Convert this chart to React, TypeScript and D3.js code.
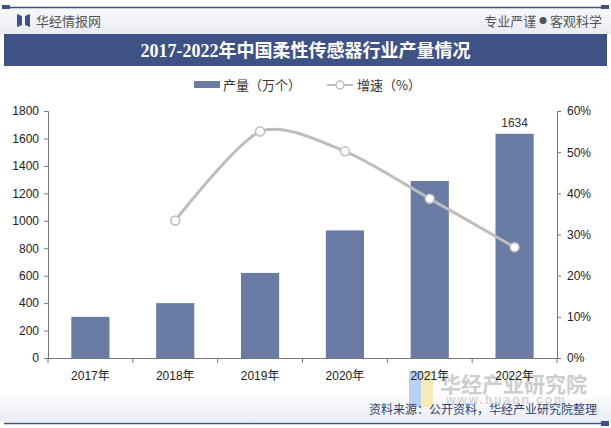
import * as d3 from "d3";
import { useEffect, useRef } from "react";

const years = ["2017年", "2018年", "2019年", "2020年", "2021年", "2022年"];
const output = [300, 400, 620, 930, 1290, 1634];
const growth = [null, 33.4, 55.0, 50.2, 38.7, 26.9];
const leftTicks = [0, 200, 400, 600, 800, 1000, 1200, 1400, 1600, 1800];
const rightTicks = [0, 10, 20, 30, 40, 50, 60];

const W = 611;
const H = 428;
const NAVY = "#3f5286";
const BAR = "#6a7ca3";
const LINE = "#bdbdbd";
const CJK = "'Noto Sans CJK SC', 'Liberation Sans', sans-serif";
const NUM = "'Liberation Sans', Arial, sans-serif";

export default function App() {
	const ref = useRef<SVGSVGElement | null>(null);

	useEffect(() => {
		if (!ref.current) return;
		const svg = d3.select(ref.current);
		svg.selectAll("*").remove();

		const m = { left: 48, right: 557, top: 111, bottom: 358 };

		const defs = svg.append("defs");
		const hg = defs.append("linearGradient").attr("id", "hdr").attr("x1", 0).attr("x2", 0).attr("y1", 0).attr("y2", 1);
		hg.append("stop").attr("offset", 0).attr("stop-color", "#f7f8fb");
		hg.append("stop").attr("offset", 1).attr("stop-color", "#e9ecf3");
		const fg = defs.append("linearGradient").attr("id", "ftr").attr("x1", 0).attr("x2", 0).attr("y1", 0).attr("y2", 1);
		fg.append("stop").attr("offset", 0).attr("stop-color", "#ffffff");
		fg.append("stop").attr("offset", 1).attr("stop-color", "#e8ecf4");

		svg.append("rect").attr("width", W).attr("height", H).attr("fill", "#fff");

		// header
		svg.append("rect").attr("x", 0).attr("y", 8).attr("width", W).attr("height", 26).attr("fill", "url(#hdr)");
		svg.append("line").attr("x1", 4).attr("x2", 607).attr("y1", 7.5).attr("y2", 7.5).attr("stroke", NAVY).attr("stroke-width", 1.5);
		svg.append("rect").attr("x", 2).attr("y", 5).attr("width", 8).attr("height", 4).attr("fill", NAVY);
		svg.append("rect").attr("x", 601).attr("y", 5).attr("width", 8).attr("height", 4).attr("fill", NAVY);
		// logo
		svg.append("path").attr("d", "M17,14 L22,16 L22,25 L17,27 Z").attr("fill", NAVY);
		svg.append("path").attr("d", "M30,14 L25,16 L25,25 L30,27 Z").attr("fill", NAVY);
		svg.append("text").attr("x", 36).attr("y", 26).attr("font-family", CJK).attr("font-size", 13)
			.attr("fill", "#555").text("华经情报网");
		const rt = svg.append("text").attr("x", 602).attr("y", 26).attr("text-anchor", "end").attr("font-family", CJK)
			.attr("font-size", 13).attr("fill", "#555");
		rt.append("tspan").text("专业严谨 ");
		rt.append("tspan").attr("font-size", 8).attr("dy", -2).text("●");
		rt.append("tspan").attr("dy", 2).text(" 客观科学");

		svg.append("rect").attr("x", 4).attr("y", 34).attr("width", 603).attr("height", 32).attr("fill", NAVY);
		svg.append("text").attr("x", W / 2).attr("y", 57).attr("text-anchor", "middle")
			.attr("font-family", "'Liberation Serif', 'Noto Sans CJK SC', serif").attr("font-weight", "bold")
			.attr("font-size", 18).attr("fill", "#fff").text("2017-2022年中国柔性传感器行业产量情况");

		// footer
		svg.append("rect").attr("x", 0).attr("y", 392).attr("width", W).attr("height", 30).attr("fill", "url(#ftr)");
		svg.append("line").attr("x1", 4).attr("x2", 604).attr("y1", 423.5).attr("y2", 423.5).attr("stroke", NAVY).attr("stroke-width", 1.5);
		svg.append("rect").attr("x", 601).attr("y", 421).attr("width", 8).attr("height", 5).attr("fill", NAVY);

		// watermark bottom-right
		svg.append("rect").attr("x", 409).attr("y", 371).attr("width", 12).attr("height", 36).attr("fill", "#a9c6f2").attr("opacity", 0.8);
		svg.append("rect").attr("x", 421).attr("y", 371).attr("width", 12).attr("height", 36).attr("fill", "#f6e6a8").attr("opacity", 0.8);
		svg.append("text").attr("x", 440).attr("y", 392).attr("font-family", CJK).attr("font-size", 21).attr("font-weight", "bold")
			.attr("fill", "#cdcdcd").text("华经产业研究院");
		svg.append("text").attr("x", 446).attr("y", 404).attr("font-family", NUM).attr("font-size", 12).attr("font-weight", "bold")
			.attr("fill", "#d4d4d4").attr("letter-spacing", 2).text("www.huaon.com");

		svg.append("text").attr("x", 597).attr("y", 414).attr("text-anchor", "end").attr("font-family", CJK)
			.attr("font-size", 12).attr("fill", "#2f3f6b").text("资料来源：公开资料，华经产业研究院整理");

		// scales
		const x = d3.scaleBand<string>().domain(years).range([m.left, m.right]).paddingInner(0.55).paddingOuter(0.275);
		const xc = d3.scaleBand<string>().domain(years).range([m.left, m.right]);
		const y = d3.scaleLinear().domain([0, 1800]).range([m.bottom, m.top]);
		const y2 = d3.scaleLinear().domain([0, 60]).range([m.bottom, m.top]);

		// bars
		svg.append("g").selectAll("rect").data(output).join("rect")
			.attr("x", (_, i) => x(years[i])!)
			.attr("y", (d) => y(d))
			.attr("width", x.bandwidth())
			.attr("height", (d) => m.bottom - y(d))
			.attr("fill", BAR);

		svg.append("text").attr("x", x(years[5])! + x.bandwidth() / 2).attr("y", y(output[5]) - 7)
			.attr("text-anchor", "middle").attr("font-family", NUM).attr("font-size", 12).attr("fill", "#333")
			.text(String(output[5]));

		// axes
		const axisColor = "#777";
		const gl = svg.append("g").attr("transform", `translate(${m.left},0)`)
			.call(d3.axisLeft(y).tickValues(leftTicks).tickSize(4).tickPadding(5).tickFormat((d) => String(d)));
		const gr = svg.append("g").attr("transform", `translate(${m.right},0)`)
			.call(d3.axisRight(y2).tickValues(rightTicks).tickSize(4).tickPadding(6).tickFormat((d) => `${d}%`));
		const gb = svg.append("g").attr("transform", `translate(0,${m.bottom})`)
			.call(d3.axisBottom(xc).tickSize(0).tickPadding(13));
		[gl, gr, gb].forEach((g) => {
			g.select(".domain").attr("stroke", axisColor);
			g.selectAll(".tick line").attr("stroke", axisColor);
			g.selectAll("text").attr("fill", "#222").attr("font-size", 12).attr("font-family", NUM);
		});
		gb.selectAll("text").attr("font-family", `'Liberation Sans', 'Noto Sans CJK SC', sans-serif`);
		gb.select(".domain").attr("d", `M${m.left},0.5H${m.right + 4}`);
		svg.append("g").selectAll("line").data(d3.range(years.length + 1)).join("line")
			.attr("x1", (i) => m.left + i * xc.bandwidth()).attr("x2", (i) => m.left + i * xc.bandwidth())
			.attr("y1", m.bottom).attr("y2", m.bottom + 5).attr("stroke", axisColor);

		// growth line
		const pts = growth.map((g, i) => ({ g, i })).filter((d) => d.g !== null) as { g: number; i: number }[];
		const line = d3.line<{ g: number; i: number }>()
			.x((d) => xc(years[d.i])! + xc.bandwidth() / 2)
			.y((d) => y2(d.g))
			.curve(d3.curveCardinal.tension(0.2));
		svg.append("path").datum(pts).attr("d", line).attr("fill", "none").attr("stroke", LINE).attr("stroke-width", 3);
		svg.append("g").selectAll("circle").data(pts).join("circle")
			.attr("cx", (d) => xc(years[d.i])! + xc.bandwidth() / 2)
			.attr("cy", (d) => y2(d.g))
			.attr("r", 4.5).attr("fill", "#fff").attr("stroke", LINE).attr("stroke-width", 1.5);

		// legend
		const lg = svg.append("g").attr("font-family", CJK).attr("font-size", 13).attr("fill", "#333");
		lg.append("rect").attr("x", 194).attr("y", 81).attr("width", 26).attr("height", 7).attr("fill", BAR);
		lg.append("text").attr("x", 223).attr("y", 90).text("产量（万个）");
		lg.append("line").attr("x1", 327).attr("x2", 353).attr("y1", 85).attr("y2", 85).attr("stroke", LINE).attr("stroke-width", 2);
		lg.append("circle").attr("cx", 340).attr("cy", 85).attr("r", 4).attr("fill", "#fff").attr("stroke", LINE).attr("stroke-width", 1.5);
		lg.append("text").attr("x", 357).attr("y", 90).text("增速（%）");
	}, []);

	return (
		<svg ref={ref} width={W} height={H} style={{ display: "block", position: "absolute", left: 0, top: 0 }} />
	);
}
